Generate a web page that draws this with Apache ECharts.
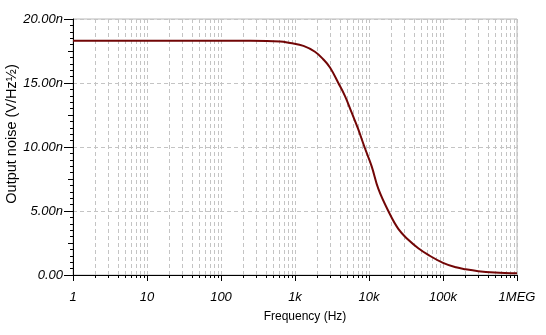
<!DOCTYPE html>
<html>
<head>
<meta charset="utf-8">
<script src="https://cdn.jsdelivr.net/npm/echarts@6/dist/echarts.min.js"></script>
<style>
  html, body { margin: 0; padding: 0; background: #fff; }
  #chart { width: 546px; height: 335px; }
</style>
</head>
<body>
<div id="chart"></div>
<script>
// Output noise density of the filter stage versus frequency
const freqHz = [1, 10, 100, 250, 630, 860, 1300, 1860, 2400, 2970, 3850, 4740, 5840, 7170,
  8690, 10870, 13350, 18240, 24890, 33960, 46350, 63270, 100000, 150000, 200000, 300000,
  500000, 1000000];
const noiseNV = [18.3, 18.3, 18.3, 18.3, 18.25, 18.12, 17.9, 17.44, 16.86, 16.21, 15.0, 13.98,
  12.68, 11.37, 10.0, 8.49, 6.75, 5.0, 3.6, 2.75, 2.09, 1.57, 0.95, 0.6, 0.45, 0.3, 0.2, 0.13];

// Tick labels of the frequency axis (decades)
const decadeValues = [1, 10, 100, 1000, 10000, 100000, 1000000];
const decadeLabels = ['1', '10', '100', '1k', '10k', '100k', '1MEG'];
// Noise axis ticks
const noiseTicks = [0, 5, 10, 15, 20];

// Minor decade positions 2..9 x 10^k for the log grid
const minorFreqs = [];
decadeValues.slice(0, -1).forEach(d => {
  for (let m = 2; m <= 9; m++) minorFreqs.push([d * m, 0]);
});

const gridColor = '#c4c4c4';
const labelFont = { fontFamily: 'Liberation Sans, Arial, sans-serif', fontStyle: 'italic', fontSize: 13, color: '#000' };

const chart = echarts.init(document.getElementById('chart'), null, { renderer: 'canvas' });
chart.setOption({
  animation: false,
  backgroundColor: '#fff',
  grid: {
    left: 73, right: 29, top: 19, bottom: 60, containLabel: false, outerBoundsMode: 'none',
    show: true, borderColor: '#b8b8b8', borderWidth: 1, backgroundColor: 'transparent'
  },
  xAxis: {
    type: 'log', logBase: 10, min: 1, max: 1000000,
    name: 'Frequency (Hz)', nameLocation: 'middle', nameGap: 36, nameMoveOverlap: false,
    nameTextStyle: { fontFamily: 'Liberation Sans, Arial, sans-serif', fontSize: 12, color: '#000', padding: [0, 0, 0, 20] },
    axisLine: { show: true, lineStyle: { color: '#000', width: 1 } },
    axisTick: { show: true, length: 6, lineStyle: { color: '#000' } },
    minorTick: { show: false },
    axisLabel: {
      ...labelFont, margin: 16,
      formatter: v => { const i = decadeValues.indexOf(Math.round(v)); return i >= 0 ? decadeLabels[i] : ''; }
    },
    splitLine: { show: true, lineStyle: { color: gridColor, type: [4, 3], width: 1 } }
  },
  yAxis: [{
    type: 'value', min: noiseTicks[0], max: noiseTicks[noiseTicks.length - 1], interval: 5,
    name: 'Output noise (V/Hz½)', nameLocation: 'middle', nameGap: 54, nameMoveOverlap: false,
    nameTextStyle: { fontFamily: 'Liberation Sans, Arial, sans-serif', fontSize: 14.5, color: '#000', padding: [0, 0, 0, 26] },
    axisLine: { show: true, lineStyle: { color: '#000', width: 1 } },
    axisTick: { show: true, length: 9, lineStyle: { color: '#000' } },
    minorTick: { show: true, splitNumber: 10, length: 3, lineStyle: { color: '#000' } },
    axisLabel: { ...labelFont, margin: 10, formatter: v => v === 0 ? '0.00' : v.toFixed(2) + 'n' },
    splitLine: { show: true, lineStyle: { color: gridColor, type: [4, 3], width: 1 } }
  }, {
    // half-step ticks between labelled values
    type: 'value', position: 'left', min: 0, max: 20, interval: 2.5,
    axisLine: { show: false }, axisLabel: { show: false }, splitLine: { show: false },
    axisTick: { show: true, length: 5, lineStyle: { color: '#000' } }
  }],
  series: [{
    // minor log gridlines and ticks
    type: 'custom', silent: true, z: 1,
    data: minorFreqs,
    renderItem: (params, api) => {
      const p = api.coord([api.value(0), 0]);
      const cs = params.coordSys;
      const x = Math.round(p[0]) + 0.5;
      return {
        type: 'group',
        children: [{
          type: 'line',
          shape: { x1: x, y1: cs.y, x2: x, y2: cs.y + cs.height },
          style: { stroke: gridColor, lineWidth: 1, lineDash: [4, 3] }
        }, {
          type: 'line',
          shape: { x1: x, y1: cs.y + cs.height, x2: x, y2: cs.y + cs.height + 3 },
          style: { stroke: '#000', lineWidth: 1 }
        }]
      };
    }
  }, {
    type: 'line', z: 5,
    data: freqHz.map((f, i) => [f, noiseNV[i]]),
    showSymbol: false, smooth: 0.4,
    lineStyle: { color: '#720606', width: 2 }
  }]
});
</script>
</body>
</html>
